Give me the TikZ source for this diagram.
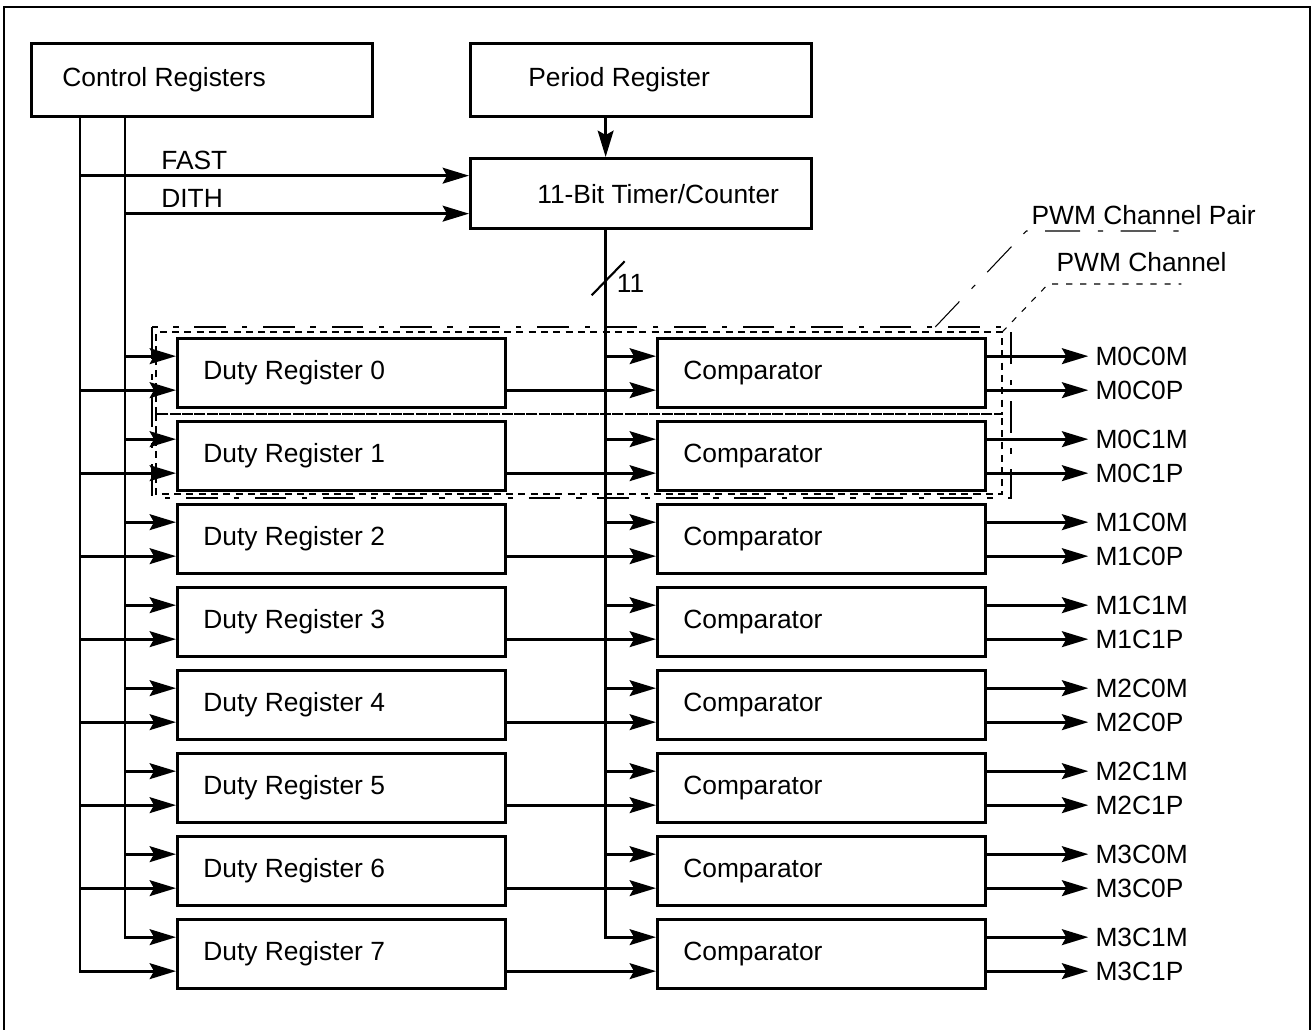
\documentclass[tikz,border=0pt]{standalone}
\usepackage{fontspec}
\setmainfont{Liberation Sans}
\usetikzlibrary{arrows.meta,positioning,calc}

\begin{document}
\begin{tikzpicture}[x=0.02cm, y=-0.02cm, font=\fontsize{15pt}{18pt}\selectfont]
  \tikzstyle{block} = [rectangle, draw, line width=1.9pt, anchor=north west, minimum width=6.56cm, minimum height=1.38cm, inner sep=0pt]
  \tikzstyle{top block} = [block, minimum width=6.82cm, minimum height=1.46cm]
  \tikzstyle{inlabel} = [anchor=west, inner sep=0pt]
  \tikzstyle{arrow} = [line width=1.6pt, -{Stealth[length=15pt, width=9pt, inset=2.5pt]}]
  \tikzstyle{wire} = [line width=1.6pt, line cap=rect]
  \tikzstyle{chan} = [line width=1.1pt, dash pattern=on 4pt off 3pt]
  \tikzstyle{pair} = [line width=1.1pt, dash pattern=on 18pt off 9pt on 3pt off 9pt]
  \tikzstyle{leader} = [line width=0.6pt]

  \useasboundingbox (0,0) rectangle (1313,1030);
  \draw[line width=1.1pt] (4,1030) -- (4,7) -- (1310,7) -- (1310,1030);

  % top row
  \node[top block, label={[inlabel, xshift=0.64cm]west:Control Registers}] (ctrl) at (30,42) {};
  \node[top block, label={[inlabel, xshift=1.18cm]west:Period Register}] (period) at (469,42) {};
  \node[top block, minimum height=1.4cm, label={[inlabel, xshift=1.36cm]west:11-Bit Timer/Counter}] (timer) at (469,157) {};

  % buses
  \coordinate (busA) at ([xshift=1cm]ctrl.south west);
  \coordinate (busB) at ([xshift=1.9cm]ctrl.south west);
  \coordinate (tbus) at ([xshift=-0.71cm]timer.south);
  \coordinate (fastin) at ([yshift=0.36cm]timer.west);
  \coordinate (dithin) at ([yshift=-0.4cm]timer.west);

  \draw[arrow] ([xshift=-0.71cm]period.south) -- ([xshift=-0.71cm]timer.north);
  \draw[arrow] (busA |- fastin) -- node[pos=0, anchor=south west, inner sep=0pt, xshift=1.6cm, yshift=0.08cm] (fast) {FAST} (fastin);
  \draw[arrow] (busB |- dithin) -- node[pos=0, anchor=south west, inner sep=0pt, xshift=0.7cm, yshift=0.1cm] (dith) {DITH} (dithin);

  % channels
  \foreach \i in {0,...,7} {
    \pgfmathtruncatemacro{\pairno}{floor(\i/2)}
    \pgfmathtruncatemacro{\chno}{mod(\i,2)}
    \node[block, label={[inlabel, xshift=0.54cm]west:Duty Register \i}] (duty\i) at (176,{337+83*\i}) {};
    \node[block, label={[inlabel, xshift=0.54cm]west:Comparator}] (comp\i) at (656,{337+83*\i}) {};
    \coordinate (dup\i) at ([yshift=0.34cm]duty\i.west);
    \coordinate (dlo\i) at ([yshift=-0.34cm]duty\i.west);
    \coordinate (cup\i) at ([yshift=0.34cm]comp\i.west);
    \coordinate (clo\i) at ([yshift=-0.34cm]comp\i.west);
    \draw[arrow] (busB |- dup\i) -- (dup\i);
    \draw[arrow] (busA |- dlo\i) -- (dlo\i);
    \draw[arrow] (tbus |- cup\i) -- (cup\i);
    \draw[arrow] (duty\i.east |- clo\i) -- (clo\i);
    \draw[arrow] ([yshift=0.34cm]comp\i.east) -- ++(101,0) node[right] (om\i) {M\pairno C\chno M};
    \draw[arrow] ([yshift=-0.34cm]comp\i.east) -- ++(101,0) node[right] (op\i) {M\pairno C\chno P};
  }

  \draw[wire] (busA) -- (busA |- dlo7);
  \draw[wire] (busB) -- (busB |- dup7);
  \draw[wire] (tbus) -- (tbus |- cup7);

  % bus width mark
  \draw[line width=1.2pt] ($(tbus)+(-14,65)$) -- ($(tbus)+(19,31)$);
  \node[anchor=west, inner sep=0pt] (width) at ($(tbus)+(11,53)$) {11};

  % channel and pair outlines
  \draw[pair] ($(duty0.north west)+(-24,-10)$) rectangle ($(comp1.south east)+(24,6)$);
  \coordinate (chne) at ($(comp0.north east)+(15,-5)$);
  \draw[chan] ($(duty0.south west)+(-20,5)$) rectangle (chne);
  \draw[chan] ($(duty1.north west)+(-20,-6)$) rectangle ($(comp1.south east)+(15,2)$);

  \coordinate (pairtop) at ($(comp0.north east)+(-52,-10)$);
  \draw[leader, dash pattern=on 20pt off 10pt on 3pt off 10pt] (pairtop) -- ++(91,-96) coordinate (pairknee) -- ++(160,0);
  \node[above right=0.12cm and 0.1cm of pairknee, inner sep=0pt] (pairlbl) {PWM Channel Pair};
  \draw[leader, dash pattern=on 3.5pt off 4.5pt] (chne) -- ++(46,-48) coordinate (chanknee) -- ++(133,0);
  \node[above right=0.24cm and 0.16cm of chanknee, inner sep=0pt] (chanlbl) {PWM Channel};
\end{tikzpicture}
\end{document}
